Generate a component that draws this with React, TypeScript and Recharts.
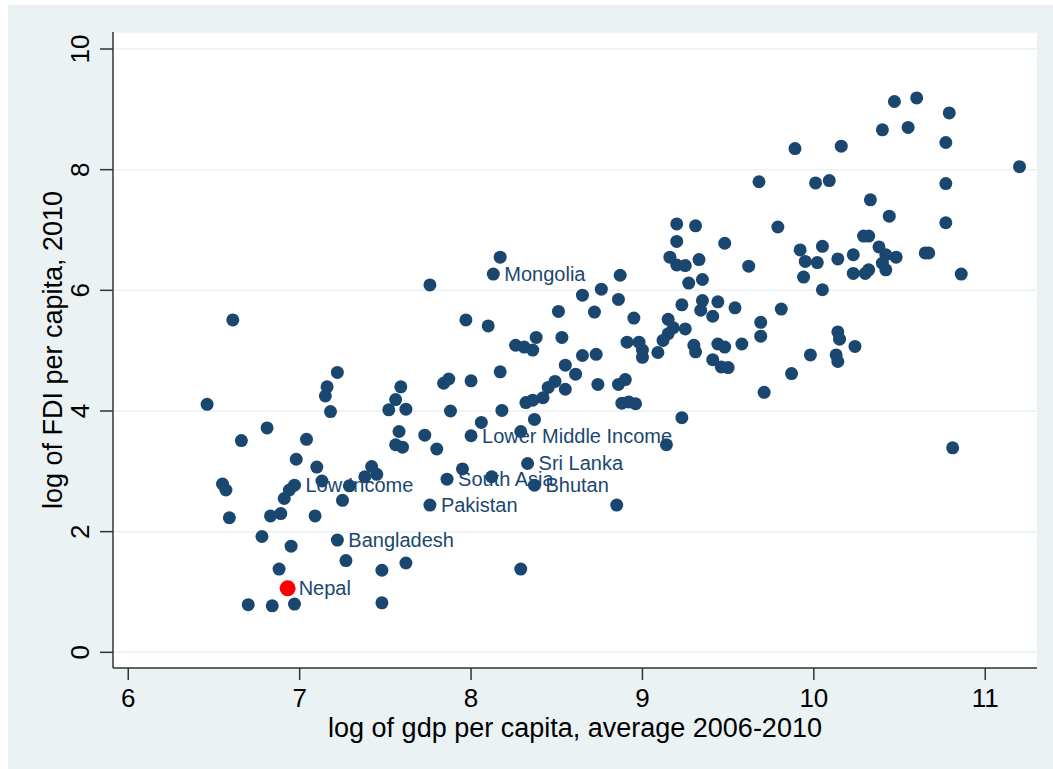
import React from "react";
import { CartesianGrid, Label, Scatter, ScatterChart, XAxis, YAxis } from "recharts";

// log of gdp per capita (avg 2006-2010) / log of FDI per capita (2010), unlabeled countries
const gdpPerCapita = [
  6.46, 6.61, 6.66, 6.81, 7.04, 7.22, 7.16, 7.15, 7.18, 7.59, 7.56, 7.52, 7.62, 7.84, 7.87, 8.0,
  8.17, 8.55, 8.61, 8.32, 8.36, 8.42, 8.45, 8.49, 8.55, 7.88, 8.18, 8.06, 8.37, 8.29, 7.58, 7.56,
  7.6, 7.73, 7.8, 6.98, 7.1, 7.13, 6.55, 6.57, 6.94, 6.91, 7.29, 7.25, 7.38, 7.42, 7.45, 7.95,
  8.12, 6.59, 6.83, 6.89, 7.09, 6.78, 6.95, 7.27, 6.88, 7.48, 7.62, 8.29, 6.7, 6.84, 6.97, 7.48,
  7.76, 7.97, 8.1, 8.17, 8.87, 8.76, 8.65, 8.86, 8.51, 8.72, 8.95, 8.38, 8.26, 8.31, 8.36, 8.53,
  8.65, 8.73, 8.74, 8.86, 8.9, 8.88, 8.92, 8.96, 9.23, 9.14, 8.85, 9.2, 9.31, 9.79, 9.2, 9.48,
  9.92, 9.95, 9.94, 9.16, 9.2, 9.25, 9.33, 9.62, 9.27, 9.35, 9.23, 9.35, 9.34, 9.44, 9.54, 9.41,
  9.81, 9.15, 9.18, 9.15, 9.12, 9.25, 8.91, 8.98, 9.0, 9.0, 9.09, 9.3, 9.31, 9.44, 9.48, 9.58,
  9.69, 9.69, 9.41, 9.46, 9.5, 9.98, 9.87, 9.71, 10.47, 10.6, 10.79, 10.4, 10.55, 10.77, 9.89, 10.16,
  11.2, 9.68, 10.01, 10.09, 10.77, 10.33, 10.44, 10.77, 10.29, 10.32, 10.05, 10.02, 10.14, 10.23, 10.38, 10.42,
  10.48, 10.4, 10.42, 10.65, 10.67, 10.23, 10.3, 10.32, 10.86, 10.05, 10.14, 10.15, 10.24, 10.13, 10.14, 10.81,
];
const fdiPerCapita = [
  4.11, 5.51, 3.51, 3.72, 3.53, 4.64, 4.4, 4.25, 3.99, 4.4, 4.19, 4.02, 4.03, 4.46, 4.53, 4.5,
  4.65, 4.76, 4.61, 4.14, 4.18, 4.22, 4.39, 4.49, 4.36, 4.0, 4.01, 3.81, 3.86, 3.66, 3.66, 3.44,
  3.4, 3.6, 3.37, 3.2, 3.07, 2.84, 2.79, 2.69, 2.69, 2.55, 2.76, 2.52, 2.91, 3.08, 2.95, 3.04,
  2.91, 2.23, 2.26, 2.3, 2.26, 1.92, 1.76, 1.52, 1.38, 1.36, 1.48, 1.38, 0.79, 0.77, 0.8, 0.82,
  6.09, 5.51, 5.41, 6.55, 6.25, 6.02, 5.92, 5.85, 5.65, 5.64, 5.54, 5.22, 5.09, 5.06, 5.01, 5.22,
  4.92, 4.94, 4.44, 4.44, 4.52, 4.13, 4.15, 4.12, 3.89, 3.44, 2.44, 7.1, 7.07, 7.05, 6.81, 6.78,
  6.67, 6.48, 6.22, 6.55, 6.42, 6.41, 6.51, 6.4, 6.12, 6.18, 5.76, 5.83, 5.67, 5.81, 5.71, 5.57,
  5.69, 5.52, 5.38, 5.28, 5.17, 5.36, 5.14, 5.14, 5.01, 4.89, 4.97, 5.09, 4.98, 5.11, 5.06, 5.11,
  5.47, 5.24, 4.85, 4.73, 4.72, 4.93, 4.62, 4.31, 9.13, 9.19, 8.94, 8.66, 8.7, 8.45, 8.35, 8.39,
  8.05, 7.8, 7.78, 7.82, 7.77, 7.5, 7.23, 7.12, 6.9, 6.9, 6.73, 6.46, 6.52, 6.59, 6.72, 6.59,
  6.55, 6.45, 6.34, 6.62, 6.62, 6.28, 6.28, 6.34, 6.27, 6.01, 5.31, 5.19, 5.07, 4.93, 4.82, 3.39,
];

// labelled markers
const labeledNames = [
  "Mongolia",
  "Lower Middle Income",
  "Sri Lanka",
  "South Asia",
  "Bhutan",
  "Pakistan",
  "Low Income",
  "Bangladesh",
  "Nepal",
];
const labeledGdp = [8.13, 8.0, 8.33, 7.86, 8.37, 7.76, 6.97, 7.22, 6.93];
const labeledFdi = [6.27, 3.59, 3.13, 2.87, 2.77, 2.44, 2.77, 1.86, 1.06];
const HIGHLIGHT = "Nepal";

const xTicks = [6, 7, 8, 9, 10, 11];
const yTicks = [0, 2, 4, 6, 8, 10];

const NAVY = "#1a476f";
const RED = "#ff0000";
const BG = "#eaf2f3";
const AXIS = "#333333";
const FONT = '"Liberation Sans", Arial, Helvetica, sans-serif';

const points = gdpPerCapita.map((gdp, i) => ({ gdp, fdi: fdiPerCapita[i] }));
const labeled = labeledNames.map((name, i) => ({
  name,
  gdp: labeledGdp[i],
  fdi: labeledFdi[i],
}));

function Dot(props: any) {
  const { cx, cy } = props;
  return <circle cx={cx} cy={cy} r={6.5} fill={NAVY} />;
}

// marker + its label to the right (label drawn first so later markers sit on top)
function LabeledDot(props: any) {
  const { cx, cy, payload } = props;
  const hi = payload.name === HIGHLIGHT;
  return (
    <g>
      <text x={cx + 11} y={cy + 7} fontSize={20} fill={NAVY} fontFamily={FONT}>
        {payload.name}
      </text>
      <circle cx={cx} cy={cy} r={hi ? 8 : 6.5} fill={hi ? RED : NAVY} />
    </g>
  );
}

function XTick({ x, y, payload }: any) {
  return (
    <text x={x} y={y + 27} textAnchor="middle" fontSize={26} fill="#000" fontFamily={FONT}>
      {payload.value}
    </text>
  );
}

function YTick({ x, y, payload }: any) {
  return (
    <text
      transform={`translate(${x - 11},${y}) rotate(-90)`}
      textAnchor="middle"
      fontSize={26}
      fill="#000"
      fontFamily={FONT}
    >
      {payload.value}
    </text>
  );
}

export default function App() {
  return (
    <div
      style={{
        position: "fixed",
        left: 0,
        top: 0,
        width: 1053,
        height: 769,
        background: "#fff",
        overflow: "hidden",
      }}
    >
      <div style={{ position: "absolute", left: 8, top: 5, right: 0, bottom: 0, background: BG }} />
      <div style={{ position: "absolute", left: 0, top: 0 }}>
        <ScatterChart width={1053} height={769} margin={{ top: 32, right: 16, bottom: 0, left: 0 }}>
          <CartesianGrid
            vertical={false}
            fill="#ffffff"
            stroke={BG}
            strokeWidth={1.5}
          />
          <XAxis
            type="number"
            dataKey="gdp"
            domain={[5.911, 11.302]}
            allowDataOverflow
            ticks={xTicks}
            height={101}
            tickSize={12}
            tickMargin={0}
            axisLine={{ stroke: AXIS, strokeWidth: 1.5 }}
            tickLine={{ stroke: AXIS, strokeWidth: 1.5 }}
            tick={<XTick />}
          >
            <Label
              content={(p: any) => {
                const vb = p.viewBox;
                return (
                  <text
                    x={vb.x + vb.width / 2}
                    y={vb.y + 69}
                    textAnchor="middle"
                    fontSize={27}
                    fill="#000"
                    fontFamily={FONT}
                  >
                    log of gdp per capita, average 2006-2010
                  </text>
                );
              }}
            />
          </XAxis>
          <YAxis
            type="number"
            dataKey="fdi"
            domain={[-0.26, 10.282]}
            allowDataOverflow
            ticks={yTicks}
            width={113}
            tickSize={13}
            tickMargin={0}
            axisLine={{ stroke: AXIS, strokeWidth: 1.5 }}
            tickLine={{ stroke: AXIS, strokeWidth: 1.5 }}
            tick={<YTick />}
          >
            <Label
              content={(p: any) => {
                const vb = p.viewBox;
                return (
                  <text
                    transform={`translate(62,${vb.y + vb.height / 2}) rotate(-90)`}
                    textAnchor="middle"
                    fontSize={27}
                    fill="#000"
                    fontFamily={FONT}
                  >
                    log of FDI per capita, 2010
                  </text>
                );
              }}
            />
          </YAxis>
          <Scatter data={labeled} shape={<LabeledDot />} isAnimationActive={false} />
          <Scatter data={points} shape={<Dot />} isAnimationActive={false} />
        </ScatterChart>
      </div>
    </div>
  );
}
